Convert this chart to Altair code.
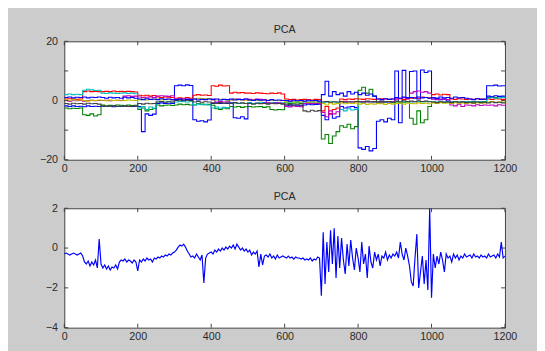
import altair as alt
import pandas as pd

# ---------------- data ----------------
X_TOP = list(range(0, 1201, 10))
X_BOT = list(range(0, 1201, 5))
X_TICKS = [0, 200, 400, 600, 800, 1000, 1200]
Y_TICKS_TOP = [-20, -10, 0, 10, 20]
Y_TICKS_BOT = [-4, -2, 0, 2]

SERIES_NAMES = ["b1", "g1", "r1", "c1", "m1", "y1", "k1", "b2"]
SERIES_COLORS = ["#0000ff", "#008000", "#ff0000", "#00bfbf", "#bf00bf", "#bfbf00", "#404040", "#0000ff"]

b1 = [-1.8, -2.0, -1.8, -2.0, -1.9, -2.1, -1.8, -2.0, -1.9, -2.0,
      -1.9, -2.0, -1.8, -2.1, -1.9, -2.0, -1.8, -1.9, -2.0, -1.9,
      -2.0, -10.5, -4.5, -5.0, -4.6, -1.0, -0.8, -1.0, -0.9, -1.0,
      5.0, 5.2, 5.0, 5.3, 5.1, -6.5, -7.0, -6.8, -7.2, -6.6,
      -1.0, -0.8, -1.0, -0.9, -1.0, -0.8, -5.8, -6.0, -5.5, -6.2,
      -0.8, -1.0, -0.9, -1.0, -0.8, -0.9, -1.0, -0.8, -0.9, -1.0,
      -1.5, -1.8, -1.5, -1.6, -1.8, -1.5, -1.2, -1.4, -1.3, -1.2,
      -5.0, -6.5, -4.5, -6.0, -5.5, -2.0, -2.5, -2.2, -2.0, -2.4,
      -16.0, -16.5, -15.5, -17.0, -16.2, -7.0, -6.5, -7.2, -6.0, -6.5,
      10.0, -7.5, 10.2, 1.0, 9.8, 10.0, 0.5, 10.3, 9.5, 10.0,
      0.5, 0.8, 0.3, 0.5, -0.2, -0.5, -0.3, -0.6, -0.4, -0.5,
      -0.5, -0.4, -0.6, -0.5, -0.4, 5.0, 5.0, 5.2, 4.9, 5.0,
      5.0]

g1 = [-2.5, -2.8, -2.6, -2.7, -2.5, -4.8, -5.0, -4.5, -5.2, -4.8,
      -1.5, -1.8, -1.6, -1.7, -1.5, -1.6, -1.8, -1.5, -1.7, -1.6,
      -3.0, -2.5, -3.5, -3.0, -2.8, -1.5, -1.8, -1.6, -1.5, -1.7,
      -1.5, -1.2, -1.4, -1.3, -1.5, -1.5, -1.0, -1.2, -1.4, -1.3,
      -1.6, -2.8, -3.0, -2.5, -2.8, -2.0, -2.2, -2.0, -2.3, -2.1,
      -2.0, -2.2, -2.1, -2.0, -2.3, -2.1, -3.0, -3.2, -3.0, -3.1,
      -0.8, -1.0, -0.9, -0.8, -1.0, -0.9, -0.8, -1.0, -0.9, -0.8,
      -13.0, -11.5, -14.5, -12.0, -10.5, -8.5, -9.0, -8.0, -9.5, -8.8,
      3.5, 4.5, 2.5, 3.8, 1.5, -0.5, -0.8, -0.6, -0.5, -0.7,
      -0.5, -0.8, -0.6, -0.5, -6.0, -8.0, -3.5, -7.5, -6.5, -2.0,
      -0.5, -0.6, -0.4, -0.5, -0.6, -0.5, -0.4, -0.6, -0.5, -0.4,
      -0.5, -0.4, -0.6, -0.5, -0.4, 1.0, 1.2, 1.0, 1.3, 1.1,
      1.0]

r1 = [0.5, 0.6, 0.5, 0.4, 0.5, 3.0, 3.2, 3.0, 3.1, 3.0,
      3.0, 3.1, 3.0, 3.2, 3.0, 3.1, 3.0, 3.1, 3.0, 2.9,
      1.8, 1.6, 1.8, 1.5, 1.7, 1.2, 1.0, 1.2, 1.1, 1.0,
      0.8, 0.9, 0.8, 1.0, 0.8, 1.8, 2.0, 1.8, 1.9, 1.7,
      5.0, 4.8, 5.2, 4.9, 5.0, 2.5, 2.8, 2.6, 2.7, 2.5,
      2.5, 2.4, 2.6, 2.5, 2.4, 2.3, 2.5, 2.4, 2.6, 2.2,
      0.5, 0.3, 0.4, 0.2, 0.3, 0.4, 0.3, 0.2, 0.4, 0.3,
      -3.5, -2.0, -4.5, -3.0, -2.5, 0.5, 0.3, 0.5, 0.4, 0.6,
      0.5, 0.4, 0.6, 0.5, 0.4, 0.5, 0.6, 0.5, 0.4, 0.5,
      0.5, 0.6, 0.4, 0.5, 0.8, 1.0, 0.8, 1.2, 1.0, 0.9,
      2.0, 2.2, 1.9, 2.1, 2.0, 0.5, 0.4, 0.6, 0.5, 0.4,
      0.5, 0.4, 0.6, 0.5, 0.4, 0.5, 0.4, 0.6, 0.5, 0.4,
      0.5]

c1 = [2.0, 2.2, 2.0, 2.1, 2.0, 3.5, 3.8, 3.6, 3.4, 3.5,
      2.5, 2.4, 2.6, 2.5, 2.4, 2.5, 2.6, 2.4, 2.5, 2.3,
      -2.5, -2.0, -3.0, -2.2, -2.5, -0.5, -0.3, -0.5, -0.4, -0.5,
      -0.5, -0.3, -0.4, -0.5, -0.3, -1.5, -1.2, -1.4, -1.3, -1.5,
      -2.5, -2.2, -2.6, -2.3, -2.4, -1.0, -0.8, -1.0, -0.9, -1.0,
      -0.8, -1.0, -0.9, -0.8, -1.0, -0.9, -0.8, -1.0, -0.9, -0.8,
      -0.5, -0.6, -0.4, -0.5, -0.6, -0.5, -0.4, -0.6, -0.5, -0.4,
      -0.5, -0.6, -0.4, -0.5, -0.6, -3.0, -3.5, -2.8, -3.2, -3.0,
      -0.5, -0.6, -0.4, -0.5, -0.6, -0.5, -0.4, -0.6, -0.5, -0.4,
      -0.3, -0.5, -0.4, -0.3, -0.5, -0.4, -0.3, -0.5, -0.4, -0.3,
      -0.5, -0.6, -0.4, -0.5, -0.6, -0.5, -0.4, -0.6, -0.5, -0.4,
      -0.5, -0.6, -0.4, -0.5, -0.6, 0.8, 1.0, 0.8, 0.9, 1.0,
      0.8]

m1 = [0.0, -0.2, 0.1, -0.1, 0.0, -0.2, 0.0, 0.1, -0.1, 0.0,
      0.0, 0.1, -0.1, 0.0, 0.1, 0.0, 1.5, 1.6, 1.4, 1.5,
      1.2, 1.0, 1.1, 1.2, 1.0, 1.5, 1.6, 1.5, 1.4, 1.6,
      0.5, 0.4, 0.6, 0.5, 0.4, 0.5, 0.6, 0.4, 0.5, 0.6,
      0.5, -0.5, -0.3, -0.5, -0.4, 0.3, 0.5, 0.4, 0.3, 0.5,
      0.4, 0.3, 0.5, 0.4, 0.3, -0.8, -1.0, -0.9, -0.8, -1.0,
      -2.0, -2.2, -1.8, -2.0, -2.1, -1.0, -0.8, -1.0, -0.9, -1.0,
      -4.0, -5.5, -3.5, -4.5, -3.8, -0.5, -0.3, -0.5, -0.4, -0.5,
      -0.5, -0.3, -0.5, -0.4, -0.5, -0.3, -0.5, -0.4, -0.5, -0.3,
      0.5, 0.8, 1.0, 0.6, 2.5, 3.0, 3.2, 2.8, 3.0, 2.5,
      0.5, 0.3, 0.5, 0.4, 0.3, -1.5, -1.8, -1.2, -2.0, -1.5,
      -1.6, -1.8, -1.4, -1.7, -1.5, -1.6, -1.5, -1.8, -1.4, -1.6,
      -1.5]

y1 = [0.2, 0.0, 0.3, 0.1, 0.2, 0.0, -0.2, 0.1, 0.0, 0.2,
      0.1, -0.1, 0.2, 0.0, 0.1, -0.1, 0.0, 0.2, 0.1, 0.0,
      0.3, 0.5, 0.2, 0.4, 0.3, 0.5, 0.2, 0.3, 0.4, 0.2,
      0.1, 0.0, 0.2, 0.1, -0.1, 0.5, 0.8, 0.6, 0.5, 0.7,
      0.3, 0.2, 0.4, 0.3, 0.1, 0.2, 0.4, 0.3, 0.2, 0.1,
      0.0, 0.2, 0.1, -0.1, 0.0, 0.2, 0.1, 0.0, -0.1, 0.1,
      -0.5, -0.3, -0.6, -0.4, -0.5, -0.3, -0.6, -0.4, -0.5, -0.3,
      -1.0, -1.5, -0.8, -1.2, -1.0, -0.8, -1.1, -0.9, -1.0, -0.8,
      -1.2, -1.0, -1.3, -1.1, -1.2, -1.0, -1.1, -1.3, -1.0, -1.2,
      -1.0, -0.8, -1.2, -0.9, -1.0, -1.1, -0.8, -1.0, -0.9, -1.1,
      -0.8, -1.0, -0.7, -0.9, -0.8, -1.0, -0.7, -0.9, -0.8, -1.0,
      -0.8, -1.0, -0.7, -0.9, -0.8, -0.5, -0.3, -0.6, -0.4, -0.5,
      -0.4]

k1 = [-1.0, -1.2, -0.9, -1.1, -1.0, -1.2, -0.9, -1.1, -1.0, -1.2,
      -1.8, -2.0, -1.9, -1.8, -2.0, -1.9, -1.8, -2.0, -1.9, -1.8,
      -1.0, -1.2, -0.9, -1.1, -1.0, -0.5, -0.3, -0.6, -0.4, -0.5,
      0.0, 0.2, -0.1, 0.1, 0.0, -0.5, -0.3, -0.6, -0.4, -0.5,
      -0.8, -1.0, -0.7, -0.9, -0.8, -1.0, -0.7, -0.9, -0.8, -1.0,
      -1.0, -1.2, -0.9, -1.1, -1.0, -1.2, -0.9, -1.1, -1.0, -1.2,
      -1.5, -1.3, -1.6, -1.4, -1.5, -3.5, -3.8, -3.3, -3.6, -3.4,
      -0.5, -0.3, -0.6, -0.4, -0.5, -0.3, -0.6, -0.4, -0.5, -0.3,
      -0.3, -0.5, -0.2, -0.4, -0.3, -0.5, -0.2, -0.4, -0.3, -0.5,
      -0.2, -0.4, -0.1, -0.3, -0.2, -0.4, -0.1, -0.3, -0.2, -0.4,
      -0.5, -0.7, -0.4, -0.6, -0.5, -0.7, -0.4, -0.6, -0.5, -0.7,
      -0.6, -0.8, -0.5, -0.7, -0.6, -0.8, -0.5, -0.7, -0.6, -0.8,
      -0.6]

b2 = [1.0, 1.2, 0.9, 1.1, 1.0, 1.2, 0.9, 1.1, 1.0, 1.2,
      1.0, 0.8, 1.1, 0.9, 1.0, 0.8, 1.1, 0.9, 1.0, 0.8,
      0.5, 0.3, 0.6, 0.4, 0.5, 0.3, 0.6, 0.4, 0.5, 0.3,
      0.3, 0.5, 0.2, 0.4, 0.3, 0.5, 0.2, 0.4, 0.3, 0.5,
      0.3, 0.5, 0.2, 0.4, 0.3, 0.5, 0.2, 0.4, 0.3, 0.5,
      0.2, 0.0, 0.3, 0.1, 0.2, 0.0, 0.3, 0.1, 0.2, 0.0,
      0.0, -0.2, 0.1, -0.1, 0.0, -0.2, 0.1, -0.1, 0.0, -0.2,
      2.0, 6.5, 1.5, 3.0, 2.0, 2.5, 1.5, 3.0, 2.2, 2.8,
      2.0, 2.5, 1.8, 2.2, 1.5, 0.5, 0.3, 0.6, 0.4, 0.5,
      1.0, 0.8, 1.2, 0.9, 1.0, 0.8, 1.2, 0.9, 1.0, 0.8,
      1.0, 0.8, 1.2, 0.9, 1.0, 0.8, 1.2, 0.9, 1.0, 0.8,
      0.5, 0.3, 0.6, 0.4, 0.5, 1.5, 1.3, 1.6, 1.4, 1.5,
      1.5]

bottom_vals = [
    -0.3, -0.25, -0.3, -0.35, -0.3, -0.25, -0.3, -0.35, -0.3, -0.25,
    -0.4, -0.7, -0.8, -0.65, -0.9, -0.7, -0.85, -0.6, -1.0, 0.45,
    -0.8, -1.0, -0.85, -1.05, -0.9, -1.1, -0.95, -1.0, -0.85, -1.05,
    -0.7, -0.6, -0.65, -0.55, -0.7, -0.6, -0.65, -0.75, -0.6, -0.7,
    -1.15, -0.6, -0.7, -0.55, -0.65, -0.5, -0.6, -0.55, -0.7, -0.5,
    -0.55, -0.45, -0.5, -0.4, -0.45, -0.35, -0.4, -0.3, -0.35, -0.25,
    -0.2, -0.1, 0.05, 0.15, 0.1, 0.2, 0.05, -0.15, -0.3, -0.45,
    -0.4, -0.5, -0.3, -0.45, -0.6, -0.35, -1.75, -0.5, -0.3, -0.25,
    -0.2, -0.3, -0.1, -0.2, -0.05, -0.15, 0.0, -0.1, 0.05, -0.05,
    0.1, 0.0, 0.15, -0.05, 0.2, 0.05, -0.1, 0.0, -0.15, -0.05,
    -0.2, -0.1, -0.35, -0.2, -0.3, -0.15, -0.95, -0.3, -0.85, -0.4,
    -0.35, -0.45, -0.3, -0.5, -0.4, -0.55, -0.35, -0.5, -0.45, -0.4,
    -0.45, -0.5, -0.4, -0.5, -0.45, -0.55, -0.45, -0.5, -0.5, -0.55,
    -0.5, -0.6, -0.55, -0.6, -0.5, -0.65, -0.55, -0.6, -0.45, -0.5,
    -2.4, 0.8, -1.8, 0.3, -1.2, 0.9, -0.8, 1.0, -1.5, 0.6,
    -1.0, 0.5, -0.6, -1.3, 0.2, -0.9, 0.4, -0.5, -1.1, 0.0,
    -0.5, -1.2, 0.3, -0.8, -0.3, -1.5, 0.1, -0.7, -1.0, -0.2,
    -0.6, -0.3, -0.9, -0.4, -0.5, -0.2, -0.6, -0.35, -0.5, -0.3,
    -0.4, -0.2, -0.5, 0.3, -0.3, -0.6, 0.0, -0.4, -0.9, -1.7,
    -1.9, -0.5, 0.7, -2.0, -1.2, -0.4, -1.8, -0.6, -2.1, 2.0,
    -2.5, -0.3, -1.0, -0.4, -0.8, -0.2, -0.6, -1.2, -0.3, -0.5,
    -0.4, -0.7, -0.3, -0.5, -0.35, -0.6, -0.4, -0.5, -0.3, -0.45,
    -0.4, -0.35, -0.5, -0.3, -0.45, -0.4, -0.5, -0.35, -0.45, -0.4,
    -0.5, -0.3, -0.45, -0.4, -0.35, -0.5, -0.3, -0.45, 0.3, -0.5,
    -0.4]

# ---------------- tables ----------------
top_series = [b1, g1, r1, c1, m1, y1, k1, b2]
rows = []
for name, vals in zip(SERIES_NAMES, top_series):
    for x, v in zip(X_TOP, vals):
        rows.append({"x": x, "y": v, "series": name})
top_df = pd.DataFrame(rows)
bot_df = pd.DataFrame({"x": X_BOT, "y": bottom_vals})

W, H_TOP, H_BOT = 454, 122, 123
TICK = 4
FONT = "Liberation Sans"
TXT = "#2a2a2a"


def panel(df, ydom, yticks, colored, H):
    xs = alt.Scale(domain=[0, 1200], nice=False, zero=False)
    ys = alt.Scale(domain=ydom, nice=False, zero=False)
    xaxis = alt.Axis(values=X_TICKS, title=None, grid=False, tickSize=0, domain=False,
                     labelPadding=3, labelFlush=False, format="d")
    yaxis = alt.Axis(values=yticks, title=None, grid=False, tickSize=0, domain=False,
                     labelPadding=7, minExtent=30, maxExtent=30, format="d")
    enc = dict(x=alt.X("x:Q", scale=xs, axis=xaxis), y=alt.Y("y:Q", scale=ys, axis=yaxis))
    if colored:
        enc["color"] = alt.Color("series:N", scale=alt.Scale(domain=SERIES_NAMES, range=SERIES_COLORS),
                                 legend=None)
        lines = alt.Chart(df).mark_line(interpolate="step-after", strokeWidth=1.1, clip=True).encode(**enc)
    else:
        lines = alt.Chart(df).mark_line(strokeWidth=1.2, clip=True, color="#0000ff").encode(**enc)

    xt = pd.DataFrame({"x": X_TICKS})
    yt = pd.DataFrame({"y": yticks})
    rule = dict(color="#404040", strokeWidth=1)
    xb = alt.Chart(xt).mark_rule(**rule).encode(x=alt.X("x:Q", scale=xs), y=alt.value(H), y2=alt.value(H - TICK))
    xtp = alt.Chart(xt).mark_rule(**rule).encode(x=alt.X("x:Q", scale=xs), y=alt.value(0), y2=alt.value(TICK))
    yl = alt.Chart(yt).mark_rule(**rule).encode(y=alt.Y("y:Q", scale=ys), x=alt.value(0), x2=alt.value(TICK))
    yr = alt.Chart(yt).mark_rule(**rule).encode(y=alt.Y("y:Q", scale=ys), x=alt.value(W), x2=alt.value(W - TICK))
    return alt.layer(lines, xb, xtp, yl, yr).properties(width=W, height=H, title="PCA")


top = panel(top_df, [-20, 20], Y_TICKS_TOP, True, H_TOP)
bottom = panel(bot_df, [-4, 2], Y_TICKS_BOT, False, H_BOT)

chart = (
    alt.vconcat(top, bottom, spacing=50, bounds="flush")
    .properties(padding={"left": 27, "top": 10, "right": 20, "bottom": 14}, background="#cccccc")
    .configure_view(stroke="#404040", strokeWidth=1, fill="white")
    .configure_axis(labelFont=FONT, labelFontSize=11, labelColor=TXT)
    .configure_title(font=FONT, fontSize=11, fontWeight="normal", color=TXT, offset=1, anchor="middle")
)

chart.save("out.html", embed_options={"renderer": "svg", "actions": False})
